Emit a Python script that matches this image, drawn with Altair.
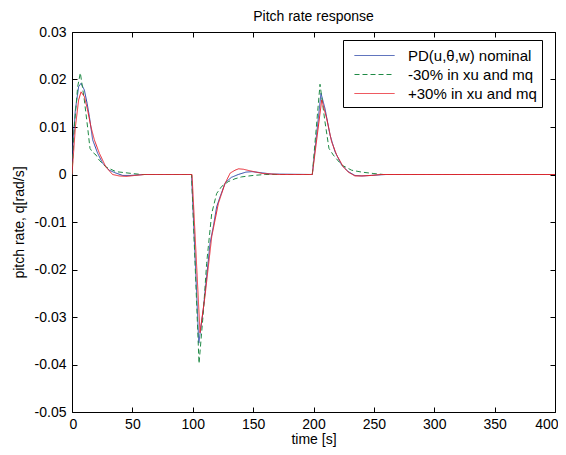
import altair as alt
import pandas as pd

title_text = "Pitch rate response"
series_names = ["PD(u,θ,w) nominal", "-30% in xu and mq", "+30% in xu and mq"]
series_colors = ["#2c46a8", "#1f8a45", "#e8222c"]
series_dash = [[1, 0], [5, 3], [1, 0]]

x_ticks = [0, 50, 100, 150, 200, 250, 300, 350, 400]
y_ticks = [-0.05, -0.04, -0.03, -0.02, -0.01, 0.0, 0.01, 0.02, 0.03]

# nominal (blue)
t_nom = [0, 1, 2.8, 5.5, 7.5, 10.2, 12.5, 14.4, 17.1, 19, 21.2, 25.3, 30.8, 36.4, 42, 48, 60, 99,
         105, 108.7, 111.5, 114.3, 117, 119.8, 122.6, 127, 132, 137.7, 144, 149, 156, 165, 199,
         206.2, 209.5, 213.7, 217.8, 223.3, 228.8, 234.3, 240, 247, 260, 400]
q_nom = [0, 0.0075, 0.0136, 0.0185, 0.0192, 0.0178, 0.015, 0.0122, 0.0073, 0.006, 0.0045, 0.0024,
         0.0009, 0.0003, -0.0002, -0.0002, 0, 0,
         -0.0355, -0.0285, -0.0215, -0.0145, -0.011, -0.0068, -0.0047, -0.0017, -0.0006, 0.0,
         0.0005, 0.0006, 0.0004, 0.0001, 0,
         0.0171, 0.0139, 0.0083, 0.0048, 0.002, 0.0006, -0.0002, -0.0003, -0.0002, 0, 0]

# -30% (green dashed)
t_m30 = [0, 1.9, 4.7, 6.9, 10.2, 12.9, 14.9, 17, 19.9, 22.6, 28, 36.4, 43.3, 50, 58, 99,
         105.2, 108.7, 111.5, 115.7, 119.8, 124, 129.4, 135, 140.5, 150, 160, 199,
         205.4, 209.5, 212.8, 216.4, 223.3, 231.6, 240, 250, 258, 400]
q_m30 = [0, 0.010, 0.0185, 0.0214, 0.0157, 0.010, 0.0055, 0.0047, 0.0041, 0.003, 0.0016, 0.0006,
         0.0004, 0.0002, 0, 0,
         -0.0398, -0.0292, -0.0187, -0.0082, -0.004, -0.0025, -0.0015, -0.0009, -0.0005, -0.0002, 0, 0,
         0.019, 0.0111, 0.0055, 0.0041, 0.002, 0.0009, 0.0005, 0.0002, 0, 0]

# +30% (red)
t_p30 = [0, 2.8, 5.5, 7.5, 10.2, 12.9, 15.7, 18.5, 22.6, 28, 33.6, 39, 45, 52, 60, 99.4,
         106, 110.1, 115.7, 121.2, 126.7, 131, 135, 138, 142, 147, 158, 172, 199,
         206.8, 210.9, 215, 219.2, 224.7, 228.8, 234.3, 241, 248, 256, 400]
q_p30 = [0, 0.010, 0.0157, 0.0174, 0.0164, 0.0136, 0.010, 0.0073, 0.0045, 0.0016, 0.0, -0.0003,
         -0.0004, -0.0002, 0, 0,
         -0.0333, -0.0257, -0.0131, -0.0061, -0.0019, 0.0003, 0.0009, 0.0012, 0.0011, 0.0008, 0.0002, 0, 0,
         0.0157, 0.0118, 0.0069, 0.0041, 0.0016, 0.0005, -0.0003, -0.0003, -0.0002, 0, 0]

rows = []
for name, ts, qs in zip(series_names, [t_nom, t_m30, t_p30], [q_nom, q_m30, q_p30]):
    for i, (t, q) in enumerate(zip(ts, qs)):
        rows.append({"series": name, "t": t, "q": q, "i": i})
df = pd.DataFrame(rows)

W, H = 483, 380
FONT = "Liberation Sans"
xs = alt.Scale(domain=[0, 400], nice=False, zero=False)
ys = alt.Scale(domain=[-0.05, 0.03], nice=False, zero=False)
ylab = "abs(datum.value) < 1e-9 ? '0' : (datum.value < 0 ? '-' : '') + format(abs(datum.value), '.2f')"

leg = alt.Legend(title=None, orient="none", legendX=271, legendY=8, strokeColor="black",
                 fillColor="white", padding=5, symbolType="M-1,0H3", symbolSize=400,
                 symbolOffset=6, symbolStrokeWidth=1, labelFont=FONT, labelFontSize=15,
                 labelColor="black", labelOffset=33, rowPadding=0)

lines = alt.Chart(df).mark_line(strokeWidth=1, clip=True).encode(
    x=alt.X("t:Q", scale=xs, axis=alt.Axis(values=x_ticks, format="d", title="time [s]", ticks=False,
                                            domain=False, grid=False, labelPadding=5, titlePadding=1,
                                            labelFlush=True, labelFlushOffset=3)),
    y=alt.Y("q:Q", scale=ys, axis=alt.Axis(values=y_ticks, labelExpr=ylab, title="pitch rate, q[rad/s]",
                                            ticks=False, domain=False, grid=False, labelPadding=6,
                                            titlePadding=8, labelFlush=False)),
    color=alt.Color("series:N", scale=alt.Scale(domain=series_names, range=series_colors), legend=leg),
    strokeDash=alt.StrokeDash("series:N", scale=alt.Scale(domain=series_names, range=series_dash), legend=leg),
    order="i:Q",
)


def tick_layer(xo, yo):
    return alt.Chart(df).mark_point(opacity=0).encode(
        x=alt.X("t:Q", scale=xs, axis=alt.Axis(orient=xo, offset=-H, values=x_ticks, labels=False,
                                                domain=False, grid=False, tickSize=5, title=None)),
        y=alt.Y("q:Q", scale=ys, axis=alt.Axis(orient=yo, offset=-W, values=y_ticks, labels=False,
                                                domain=False, grid=False, tickSize=5, title=None)),
    )


chart = alt.layer(lines, tick_layer("top", "right"), tick_layer("bottom", "left")).resolve_axis(
    x="independent", y="independent"
).properties(
    width=W, height=H,
    title=alt.TitleParams(title_text, fontSize=14, font=FONT, fontWeight="normal", color="black", offset=1),
    autosize=alt.AutoSizeParams(type="none"),
    padding={"left": 64, "top": 24, "right": 3, "bottom": 45},
    background="white",
).configure_view(stroke="black", strokeWidth=1).configure_axis(
    labelFont=FONT, labelFontSize=14, labelColor="black", titleFont=FONT, titleFontSize=14,
    titleColor="black", titleFontWeight="normal", tickColor="black", tickWidth=1
)

chart.save("out.html", embed_options={"renderer": "svg", "actions": False})
